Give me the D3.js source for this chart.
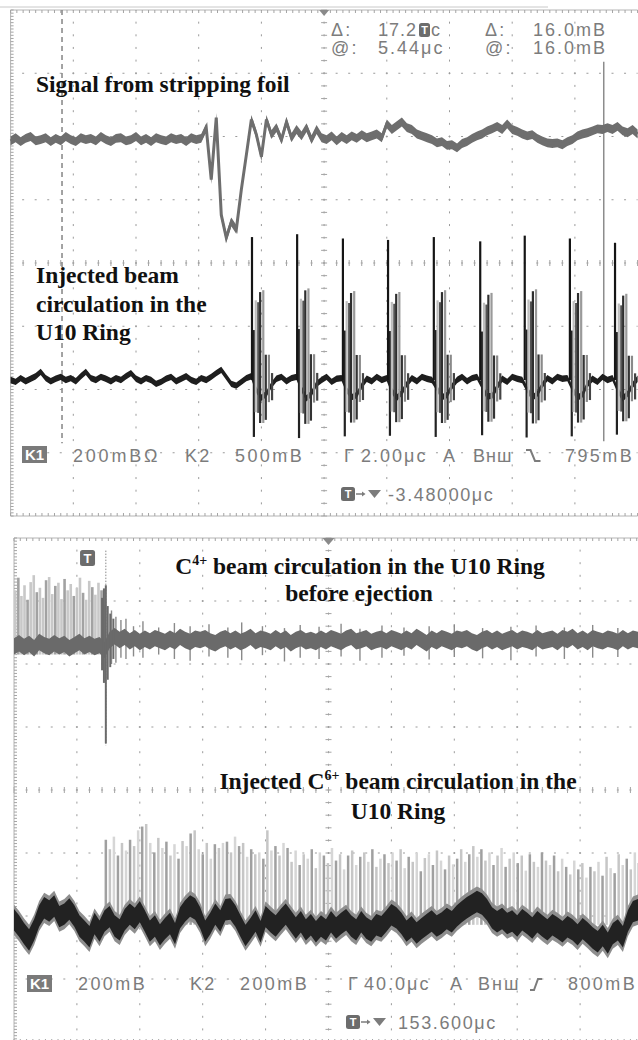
<!DOCTYPE html>
<meta charset="utf-8">
<head>
<title>U10 ring oscillograms</title>
<style>
body { margin: 0; background: #fff; }
svg { display: block; }
.ro { font-family: "Liberation Sans", Arial, sans-serif; font-size: 18px; fill: #7c7c7c; letter-spacing: 2.2px; }
.lbl { font-family: "Liberation Serif", "Times New Roman", serif; font-weight: bold; font-size: 23.5px; fill: #111; }
</style>
</head>
<body>
<div id="scope"></div>
<script src="https://cdnjs.cloudflare.com/ajax/libs/d3/7.8.5/d3.min.js"></script>
<script>
// ---- top screen: 2.00 us/div, ch1 200 mV/div, ch2 500 mV/div (values in divisions)
var topDt = 0.08;
var foilOffset = 1.95;
var foilSignal = [
  -0.02,0.03,-0.03,0.02,0.05,-0.02,0,0.03,-0.03,0.02,
  -0.02,0.05,0,-0.03,0.03,0,0.02,-0.02,0.05,0,
  -0.03,0.02,0.03,-0.02,0,0.05,-0.02,0.02,-0.03,0.03,
  0,-0.02,0.03,0,0.02,-0.03,0.03,0,0.02,
  0.19,-0.63,0.35,-1.19,-1.55,-1.30,-1.42,-0.79,-0.24,0.32,
  0.08,-0.27,0.32,0.08,0.19,0,0.28,0.03,0.16,0.06,
  0.19,0,0.16,0.03,
  0,0.06,-0.02,0.05,0,0.06,0.02,0.08,0.03,0.06,
  0.09,0.03,0.25,0.16,0.22,0.28,0.19,0.16,0.09,0.06,
  0.03,0,-0.05,-0.03,-0.09,-0.08,-0.13,-0.06,-0.03,0.02,
  0.06,0.09,0.14,0.17,0.21,0.16,0.25,0.16,0.13,0.09,
  0.06,0.08,0.02,-0.02,-0.05,-0.06,-0.05,-0.08,-0.03,0,
  0.06,0.09,0.11,0.14,0.17,0.16,0.19,0.16,0.21,0.14,
  0.11,0.16,0.09
];
var ringOffset = -1.85;
var ringSignal = [
  0,-0.03,0.03,-0.02,0.02,0.06,0.13,0.03,-0.02,0.02,
  0.05,0,0.03,-0.02,0.06,0.13,0.03,0,0.05,0.02,
  -0.02,0.03,0,0.06,0.11,0.02,-0.02,0.03,0,-0.06,
  -0.03,0.02,0.05,-0.02,0.02,0.06,0,-0.03,0.03,0,
  0.05,0.11,0.16,0.05,-0.06,-0.09,-0.03,0.03,
  0.06,-0.16,-0.28,-0.22,-0.08,0.02,0.05,-0.02,0.03,
  0.05,-0.14,-0.29,-0.21,-0.06,0,0.05,-0.03,0.02,
  0.03,-0.16,-0.27,-0.24,-0.09,0.02,-0.02,0.05,0,
  0.03,-0.17,-0.28,-0.20,-0.06,0.03,-0.02,0.05,0.02,
  0,-0.13,-0.27,-0.24,-0.10,0,0.05,-0.02,0.03,
  0.05,-0.10,-0.26,-0.25,-0.11,0.02,-0.03,0.05,0.02,
  0,-0.15,-0.28,-0.22,-0.08,0.03,-0.02,0.05,0.02,
  0.03,-0.14,-0.28,-0.23,-0.07,0.02,-0.03,0.05,0,
  0.03,-0.15,-0.29,-0.22,-0.08,0.02
];
// one revolution of the beam past the pickup
var burstTimes = [3.85, 4.57, 5.30, 6.02, 6.75, 7.49, 8.20, 8.92, 9.64];
var burstGain = [1.00, 1.02, 0.99, 0.98, 1.00, 0.97, 1.01, 0.99, 0.96];
var pulseOffsets = [0, 0.03, 0.06, 0.10, 0.13, 0.18, 0.22, 0.27, 0.32];
var pulseTops = [2.26, 0.79, 1.26, 1.23, 1.39, 1.42, 0.40, 0.40, 0.11];
var pulseBottoms = [0, -0.90, -0.51, -0.52, -0.68, -0.68, -0.63, -0.35, -0.32];
var cursorTimes = [0.82, 9.46];

// ---- bottom screen: 40.0 us/div, ch1 200 mV/div, ch2 200 mV/div
var botDt = 0.08;
var c4Offset = 2.30;
var c4Signal = [
  -0.02,0.03,-0.03,0.02,-0.05,0.05,0,-0.03,0.03,-0.02,
  0.02,-0.05,0,0.05,-0.02,0.02,-0.03,0,-0.08,
  0.08,0.14,0.08,0.13,0.06,0.11,0.05,
  0.10,0.06,0.11,0.08,0.05,0.10,0.06,0.13,0.08,0.05,
  0.10,0.08,0.11,0.06,0.03,0.08,0.11,0.06,0.10,0.05,
  0.08,0.13,0.06,0.10,0.08,0.05,0.11,0.06,0.10,0.03,
  0.08,0.11,0.06,0.08,0.05,0.10,0.06,0.11,0.08,0.05,
  0.10,0.13,0.06,0.08,0.11,0.05,0.08,0.10,0.06,0.11,
  0.08,0.05,0.10,0.06,0.13,0.08,0.03,0.10,0.06,0.11,
  0.08,0.05,0.10,0.08,0.11,0.06,0.03,0.08,0.11,0.06,
  0.10,0.05,0.08,0.11,0.06,0.10,0.08,0.05,0.11,0.06,
  0.08,0.10,0.05,0.11,0.08,0.13,0.06,0.10,0.05,0.11,
  0.08,0.06,0.10,0.08,0.05,0.11,0.06,0.10,0.08,0.06
];
var c4SpikeStart = 0.02, c4SpikeDt = 0.049;
var c4Spikes = [0.87,1.07,0.78,0.95,0.72,1.00,1.11,0.84,0.91,0.75,
  1.03,1.08,0.81,0.94,0.99,0.73,1.05,0.87,0.97,0.78,
  0.91,1.07,0.83,0.72,1.02,0.92,0.80,0.99,0.87,0.64];
var c4TrigT = [1.40, 1.43, 1.46, 1.49, 1.53, 1.58];
var c4TrigTop = [0.75, 0.90, 0.95, 0.62, 0.50, 0.42];
var c4TrigBottom = [-0.40, -0.60, -1.56, -0.55, -0.35, -0.22];
var c4PostT = [1.55,1.62,1.70,1.78,1.90,2.05,2.30,2.55,2.80,3.10,3.40,3.62,3.95,4.30,
  4.55,4.85,5.20,5.50,5.85,6.20,6.60,7.00,7.45,7.90,8.30,8.75,9.20,9.60];
var c4PostTop = [0.55,0.45,0.40,0.42,0.30,0.38,0.28,0.35,0.30,0.33,0.28,0.36,0.30,0.27,
  0.32,0.29,0.34,0.26,0.31,0.28,0.30,0.33,0.27,0.29,0.31,0.28,0.32,0.27];
var c4PostBottom = [-0.30,-0.28,-0.20,-0.22,-0.18,-0.20,-0.15,-0.22,-0.25,-0.18,-0.20,-0.24,-0.16,-0.26,
  -0.20,-0.22,-0.18,-0.25,-0.20,-0.17,-0.23,-0.19,-0.21,-0.24,-0.18,-0.22,-0.20,-0.19];

var c6Offset = -2.14;
var c6Signal = [
  0.08,-0.02,-0.14,-0.24,-0.08,0.14,0.27,0.22,0.30,0.13,
  0.17,0.25,0.14,-0.02,-0.10,-0.19,0.02,-0.10,0.06,0.13,
  -0.02,-0.08,0.08,0.17,0.10,0.21,0.06,-0.10,-0.02,-0.16,
  -0.06,0.02,-0.14,0.11,0.22,0.30,0.25,0.11,-0.10,0.02,
  0.17,0.06,0.24,0.25,0.14,-0.02,-0.17,-0.06,0.06,-0.11,
  0.13,0.05,-0.02,0.08,0.17,0.06,-0.05,0.05,-0.08,0,
  -0.11,-0.02,-0.08,0.05,-0.05,0.02,0.08,-0.02,-0.08,0.05,
  -0.05,-0.10,0,-0.03,0.06,0.16,0.11,0.02,-0.10,-0.03,
  -0.13,-0.06,0,0.06,-0.02,0.03,0.10,0.05,0.14,0.21,
  0.27,0.32,0.37,0.33,0.24,0.11,0.05,0.10,0.02,0.06,
  -0.02,0.08,0.02,-0.05,0.05,-0.02,-0.08,0,-0.05,-0.11,
  -0.03,-0.08,-0.16,-0.06,-0.13,-0.21,-0.27,-0.17,-0.29,-0.14,
  -0.08,-0.19,0.06,0.21,0.24,0.17
];
var c6SpikeStart = 1.46, c6SpikeDt = 0.0642;
var c6Spikes = [
  1.35,1.20,1.40,1.10,1.30,1.18,1.35,1.25,1.50,1.56,
  1.60,1.30,1.15,1.38,1.22,1.32,1.10,1.28,1.05,1.33,
  1.25,1.45,1.50,1.20,1.12,1.30,1.05,1.28,1.22,1.30,
  1.32,1.15,1.40,1.25,1.30,1.08,1.20,1.12,1.15,1.05,
  1.50,1.18,1.25,1.10,1.30,1.22,1.00,1.18,0.95,1.12,
  1.05,1.20,0.90,1.15,1.10,0.98,1.22,1.02,1.12,0.88,
  1.10,1.18,0.95,1.08,1.15,1.00,1.20,0.92,1.05,1.12,
  0.98,1.15,1.02,1.20,0.90,1.08,1.00,1.14,0.85,1.06,
  1.12,0.95,1.18,1.02,0.88,1.10,0.96,1.05,1.20,1.00,
  1.12,1.25,1.08,1.20,1.02,1.15,0.95,1.10,1.22,0.92,
  1.05,1.15,0.98,1.10,0.86,1.12,1.00,0.92,1.15,1.02,
  0.95,1.10,0.85,1.05,0.92,0.80,1.02,0.88,0.98,0.75,
  0.92,0.85,1.00,0.78,1.08,0.90,0.82,1.12,0.95,1.05,
  0.88,1.15,0.98
];
var trigTime = 1.46;

var width = 638, height = 1040;

var svg = d3.select("#scope").append("svg")
  .attr("width", width)
  .attr("height", height);

var xT = d3.scaleLinear().domain([0, 10]).range([10.6, 637.6]),
    yT = d3.scaleLinear().domain([-4, 4]).range([516, 10]);
var xB = d3.scaleLinear().domain([0, 10]).range([14, 643]),
    yB = d3.scaleLinear().domain([-4, 4]).range([1042, 538]);

function ticks(g, pts, cls) {
  g.selectAll("line." + cls).data(pts).enter().append("line")
    .attr("class", cls)
    .attr("x1", function(d) { return d[0]; }).attr("y1", function(d) { return d[1]; })
    .attr("x2", function(d) { return d[2]; }).attr("y2", function(d) { return d[3]; })
    .attr("stroke", "#a4a4a4").attr("stroke-width", 1);
}

function graticule(g, x, y) {
  var stepX = x(0.2) - x(0), stepY = y(0) - y(0.2);
  g.selectAll("line.gv").data(d3.range(1, 10)).enter().append("line")
    .attr("class", "gv")
    .attr("x1", function(d) { return x(d); }).attr("x2", function(d) { return x(d); })
    .attr("y1", y(4)).attr("y2", y(-4))
    .attr("stroke", "#9a9a9a").attr("stroke-dasharray", "2," + (stepY - 2))
    .attr("stroke-dashoffset", 1);
  g.selectAll("line.gh").data(d3.range(-3, 4)).enter().append("line")
    .attr("class", "gh")
    .attr("y1", function(d) { return y(d); }).attr("y2", function(d) { return y(d); })
    .attr("x1", x(0)).attr("x2", x(10))
    .attr("stroke", "#9a9a9a").attr("stroke-dasharray", "2," + (stepX - 2))
    .attr("stroke-dashoffset", 1);
  // centre cross ticks
  ticks(g, d3.range(-4, 4.001, 0.2).map(function(v) { return [x(5) - 3, y(v), x(5) + 3, y(v)]; }), "cv");
  ticks(g, d3.range(0, 10.001, 0.2).map(function(t) { return [x(t), y(0) - 3, x(t), y(0) + 3]; }), "ch");
  // frame with fine ticks
  g.append("line").attr("x1", x(0)).attr("x2", x(0)).attr("y1", y(4)).attr("y2", y(-4)).attr("stroke", "#b4b4b4");
  g.append("line").attr("x1", x(0)).attr("x2", x(10)).attr("y1", y(4)).attr("y2", y(4)).attr("stroke", "#b4b4b4");
  g.append("line").attr("x1", x(0)).attr("x2", x(10)).attr("y1", y(-4)).attr("y2", y(-4)).attr("stroke", "#b4b4b4");
  ticks(g, d3.range(-4, 4.001, 0.05).map(function(v) { return [x(0), y(v), x(0) + 3, y(v)]; }), "fl");
  ticks(g, d3.range(0, 10.001, 0.1).map(function(t) { return [x(t), y(4), x(t), y(4) + 3]; }), "ft");
  ticks(g, d3.range(0, 10.001, 0.1).map(function(t) { return [x(t), y(-4), x(t), y(-4) - 3]; }), "fb");
}

// a noisy trace drawn as a band of given half-width (in divisions) round its values
function band(g, data, x, y, dt, offset, half, colour) {
  var a = d3.area()
    .x(function(d, i) { return x(i * dt); })
    .y0(function(d) { return y(offset + d - half); })
    .y1(function(d) { return y(offset + d + half); });
  return g.append("path").datum(data).attr("d", a).attr("fill", colour);
}

function ro(g, txt, x, y, extra) {
  var t = g.append("text").attr("class", "ro").attr("x", x).attr("y", y).text(txt);
  if (extra) t.style("letter-spacing", extra);
  return t;
}

function trigIcon(g, x, y, w, h) {
  g.append("rect").attr("x", x).attr("y", y).attr("width", w).attr("height", h)
    .attr("rx", 2.5).attr("fill", "#6c6c6c");
  g.append("text").attr("x", x + w / 2).attr("y", y + h - 3)
    .attr("text-anchor", "middle").attr("fill", "#fff")
    .style("font", "bold " + (h - 3) + "px 'Liberation Sans', Arial, sans-serif").text("T");
}

function k1Box(g, x, y) {
  g.append("rect").attr("x", x).attr("y", y).attr("width", 25).attr("height", 17).attr("fill", "#7a7a7a");
  g.append("text").attr("x", x + 12.5).attr("y", y + 14).attr("text-anchor", "middle").attr("fill", "#fff")
    .style("font", "bold 15px 'Liberation Sans', Arial, sans-serif").text("K1");
}

function delayMark(g, x, y) {
  trigIcon(g, x, y, 14, 14);
  g.append("line").attr("x1", x + 15).attr("x2", x + 23).attr("y1", y + 7).attr("y2", y + 7)
    .attr("stroke", "#7c7c7c").attr("stroke-width", 1.5);
  g.append("path").attr("d", "M" + (x + 21) + "," + (y + 4.5) + "L" + (x + 24.5) + "," + (y + 7) + "L" + (x + 21) + "," + (y + 9.5) + "Z")
    .attr("fill", "#7c7c7c");
  g.append("path").attr("d", "M" + (x + 27) + "," + (y + 3) + "H" + (x + 40) + "L" + (x + 33.5) + "," + (y + 11) + "Z")
    .attr("fill", "#7c7c7c");
}

/* ================= top screen ================= */
var topG = svg.append("g").attr("id", "topScreen");
topG.append("line").attr("x1", 0).attr("x2", 548).attr("y1", 7).attr("y2", 7).attr("stroke", "#c8c8c8");
graticule(topG, xT, yT);

// cursors
topG.append("line").attr("x1", xT(cursorTimes[0])).attr("x2", xT(cursorTimes[0]))
  .attr("y1", yT(4)).attr("y2", yT(-2.85))
  .attr("stroke", "#858585").attr("stroke-width", 1.5).attr("stroke-dasharray", "5,4");
topG.append("line").attr("x1", xT(cursorTimes[1])).attr("x2", xT(cursorTimes[1]))
  .attr("y1", yT(3.18)).attr("y2", yT(-2.82))
  .attr("stroke", "#8c8c8c").attr("stroke-width", 1.5);

// trigger position marker
topG.append("path")
  .attr("d", "M" + (xT(5) - 5) + "," + yT(4) + "H" + (xT(5) + 5) + "L" + xT(5) + "," + (yT(4) + 6) + "Z")
  .attr("fill", "#8a8a8a");

band(topG, foilSignal, xT, yT, topDt, foilOffset, 0.07, "#6e6e6e");
var foilLine = d3.line()
  .x(function(d, i) { return xT(i * topDt); })
  .y(function(d) { return yT(foilOffset + d); });
topG.append("path").datum(foilSignal).attr("d", foilLine)
  .attr("fill", "none").attr("stroke", "#6e6e6e").attr("stroke-width", 3);

var pulseShade = ["#151515", "#222", "#bdbdbd", "#555", "#2e2e2e", "#9a9a9a", "#333", "#8a8a8a", "#444"];
var pulses = [];
burstTimes.forEach(function(bt, b) {
  pulseOffsets.forEach(function(o, j) {
    pulses.push({ t: bt + o, top: pulseTops[j] * burstGain[b], bot: pulseBottoms[j] * burstGain[b], j: j });
  });
});

band(topG, ringSignal, xT, yT, topDt, ringOffset, 0.05, "#1e1e1e");
topG.selectAll("line.pulse").data(pulses).enter().append("line")
  .attr("class", "pulse")
  .attr("x1", function(d) { return xT(d.t); }).attr("x2", function(d) { return xT(d.t); })
  .attr("y1", function(d) { return yT(ringOffset + d.top); })
  .attr("y2", function(d) { return yT(ringOffset + d.bot); })
  .attr("stroke", function(d) { return pulseShade[d.j]; })
  .attr("stroke-width", 2.2);

// readouts
ro(topG, "Δ:", 331, 36);
ro(topG, "17.2", 378, 36, "1px");
trigIcon(topG, 419, 23, 11, 14);
ro(topG, "c", 431, 36);
ro(topG, "Δ:", 485, 36);
ro(topG, "16.0mB", 533, 36, "2px");
ro(topG, "@:", 331, 54);
ro(topG, "5.44μc", 378, 54, "2px");
ro(topG, "@:", 485, 54);
ro(topG, "16.0mB", 533, 54, "2px");

k1Box(topG, 22, 446);
ro(topG, "200mBΩ", 73, 462, "2.8px");
ro(topG, "K2", 185, 462);
ro(topG, "500mB", 235, 462, "2.4px");
ro(topG, "Γ", 344, 462);
ro(topG, "2.00μc", 361, 462, "2px");
ro(topG, "A", 443, 462);
ro(topG, "Внш", 473, 462, "1px");
topG.append("path").attr("d", "M526,450H530.5L535,461H540.5")
  .attr("fill", "none").attr("stroke", "#7c7c7c").attr("stroke-width", 2);
ro(topG, "795mB", 565, 462, "2.4px");
delayMark(topG, 341, 487);
ro(topG, "-3.48000μc", 388, 501, "1.6px");

var tl = topG.append("g");
tl.append("text").attr("class", "lbl").attr("x", 36).attr("y", 92).text("Signal from stripping foil");
["Injected beam", "circulation in the", "U10 Ring"].forEach(function(s, i) {
  tl.append("text").attr("class", "lbl").attr("x", 36).attr("y", 283 + i * 28.5).text(s);
});

/* ================= bottom screen ================= */
var botG = svg.append("g").attr("id", "bottomScreen");
graticule(botG, xB, yB);

botG.append("path")
  .attr("d", "M" + (xB(5) - 6) + "," + yB(4) + "H" + (xB(5) + 6) + "L" + xB(5) + "," + (yB(4) + 7) + "Z")
  .attr("fill", "#8a8a8a");
trigIcon(botG, xB(1.05), 550, 15, 16);

botG.append("line").attr("x1", xB(trigTime)).attr("x2", xB(trigTime))
  .attr("y1", yB(3.8)).attr("y2", yB(c4Offset - 1.6))
  .attr("stroke", "#8a8a8a").attr("stroke-dasharray", "1.5,1.5");

// C4+ channel
botG.selectAll("line.c4s").data(c4Spikes).enter().append("line")
  .attr("class", "c4s")
  .attr("x1", function(d, i) { return xB(c4SpikeStart + i * c4SpikeDt); })
  .attr("x2", function(d, i) { return xB(c4SpikeStart + i * c4SpikeDt); })
  .attr("y1", yB(c4Offset - 0.15))
  .attr("y2", function(d) { return yB(c4Offset + d); })
  .attr("stroke", function(d, i) { return i % 3 == 1 ? "#a2a2a2" : "#c8c8c8"; })
  .attr("stroke-width", 2.6);
botG.selectAll("line.c4p").data(c4PostT).enter().append("line")
  .attr("class", "c4p")
  .attr("x1", function(d) { return xB(d); }).attr("x2", function(d) { return xB(d); })
  .attr("y1", function(d, i) { return yB(c4Offset + c4PostBottom[i]); })
  .attr("y2", function(d, i) { return yB(c4Offset + c4PostTop[i]); })
  .attr("stroke", "#8a8a8a").attr("stroke-width", 1.4);

band(botG, c4Signal, xB, yB, botDt, c4Offset, 0.13, "#6a6a6a");

botG.selectAll("line.c4t").data(c4TrigT).enter().append("line")
  .attr("class", "c4t")
  .attr("x1", function(d) { return xB(d); }).attr("x2", function(d) { return xB(d); })
  .attr("y1", function(d, i) { return yB(c4Offset + c4TrigBottom[i]); })
  .attr("y2", function(d, i) { return yB(c4Offset + c4TrigTop[i]); })
  .attr("stroke", "#6a6a6a").attr("stroke-width", 2);

// C6+ channel
botG.selectAll("line.c6s").data(c6Spikes).enter().append("line")
  .attr("class", "c6s")
  .attr("x1", function(d, i) { return xB(c6SpikeStart + i * c6SpikeDt); })
  .attr("x2", function(d, i) { return xB(c6SpikeStart + i * c6SpikeDt); })
  .attr("y1", yB(c6Offset))
  .attr("y2", function(d) { return yB(c6Offset + d); })
  .attr("stroke", function(d, i) { return i % 3 == 0 ? "#a0a0a0" : (i % 3 == 1 ? "#c6c6c6" : "#d6d6d6"); })
  .attr("stroke-width", 2.5);

band(botG, c6Signal, xB, yB, botDt, c6Offset, 0.24, "#8e8e8e");
band(botG, c6Signal, xB, yB, botDt, c6Offset, 0.17, "#222");

// readouts
k1Box(botG, 27, 975);
ro(botG, "200mB", 78, 990, "2.4px");
ro(botG, "K2", 190, 990);
ro(botG, "200mB", 240, 990, "2.4px");
ro(botG, "Γ", 348, 990);
ro(botG, "40.0μc", 364, 990, "2px");
ro(botG, "A", 450, 990);
ro(botG, "Внш", 478, 990, "2px");
botG.append("path").attr("d", "M530,990H534L538,979H542")
  .attr("fill", "none").attr("stroke", "#7c7c7c").attr("stroke-width", 2);
ro(botG, "800mB", 568, 990, "2.4px");
delayMark(botG, 346, 1015);
ro(botG, "153.600μc", 398, 1029, "1.6px");

var bl = botG.append("g");
var l1 = bl.append("text").attr("class", "lbl").attr("x", 360).attr("y", 574).attr("text-anchor", "middle");
l1.append("tspan").text("C");
l1.append("tspan").attr("dy", -9).style("font-size", "14px").text("4+");
l1.append("tspan").attr("dy", 9).text(" beam circulation in the U10 Ring");
bl.append("text").attr("class", "lbl").attr("x", 359).attr("y", 601).attr("text-anchor", "middle").text("before ejection");
var l2 = bl.append("text").attr("class", "lbl").attr("x", 398).attr("y", 789).attr("text-anchor", "middle");
l2.append("tspan").text("Injected C");
l2.append("tspan").attr("dy", -9).style("font-size", "14px").text("6+");
l2.append("tspan").attr("dy", 9).text(" beam circulation in the");
bl.append("text").attr("class", "lbl").attr("x", 398).attr("y", 819).attr("text-anchor", "middle").text("U10 Ring");
</script>
</body>
